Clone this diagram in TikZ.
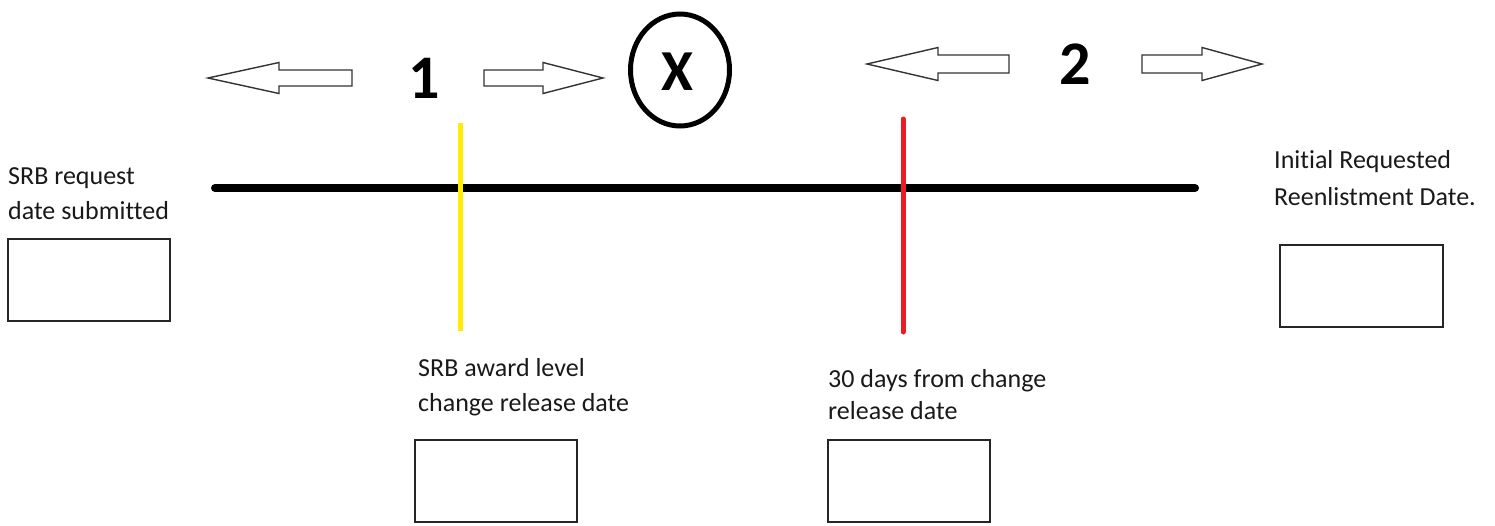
\documentclass[tikz,border=0pt]{standalone}
\usepackage{fontspec}
\setmainfont[Ligatures=CommonOff]{Carlito}
\definecolor{mspred}{RGB}{237,28,36}
\definecolor{mspyellow}{RGB}{255,236,0}
\begin{document}
\begin{tikzpicture}[x=1pt,y=-1pt,
  datebox/.style={draw=black!85,line width=1.6pt},
  lbl/.style={anchor=base west,inner sep=0pt,font=\fontsize{26}{34}\selectfont,text=black!90,align=left},
  bigno/.style={inner sep=0pt,font=\fontsize{62}{62}\selectfont\bfseries},
  hollow/.style={draw=black!80,line width=1.4pt,fill=white,line join=miter}]
\useasboundingbox (0,0) rectangle (1495,525);
% timeline
\draw[line width=8pt,line cap=round] (215,188) coordinate (ls) -- (1195,188) coordinate (le);
\draw[mspyellow,line width=5pt] (460,123) coordinate (y1) -- (460,331) coordinate (y2);
\draw[mspred,line width=5pt,line cap=round] (903,119) coordinate (r1) -- (903,332) coordinate (r2);
% boxes
\draw[datebox] (8,239) rectangle (170,321);
\draw[datebox] (415,440) rectangle (577,522);
\draw[datebox] (828,440) rectangle (990,522);
\draw[datebox] (1280,245) rectangle (1443,327);
% labels
\node[lbl] (t1a) at (8,184) {SRB request};
\node[lbl] (t1b) at (8,219) {date submitted};
\node[lbl] (t2a) at (418,376) {SRB award level};
\node[lbl] (t2b) at (418,411) {change release date};
\node[lbl] (t3a) at (828,387) {30 days from change};
\node[lbl] (t3b) at (828,419) {release date};
\node[lbl] (t4a) at (1274,168) {Initial Requested};
\node[lbl] (t4b) at (1274,205) {Reenlistment Date.};
% hollow arrows
\draw[hollow] (208,78) -- (279,62.5) -- (279,70) -- (352,70) -- (352,86) -- (279,86) -- (279,93.5) -- cycle;
\draw[hollow] (603,78) -- (543,62.5) -- (543,70) -- (484,70) -- (484,86) -- (543,86) -- (543,93.5) -- cycle;
\draw[hollow] (867,64) -- (938,47.5) -- (938,55) -- (1009,55) -- (1009,73) -- (938,73) -- (938,80.5) -- cycle;
\draw[hollow] (1262,64) -- (1202,47.5) -- (1202,55) -- (1142,55) -- (1142,73) -- (1202,73) -- (1202,80.5) -- cycle;
% numbers
\node[bigno] (n1) at (424,78) {1};
\node[bigno] (n2) at (1075,64) {2};
\draw[line width=5pt] (680,70) ellipse [x radius=49.5, y radius=56];
\node[bigno,font=\fontsize{58}{58}\selectfont\bfseries] (nx) at (677,72) {X};
\end{tikzpicture}
\end{document}
